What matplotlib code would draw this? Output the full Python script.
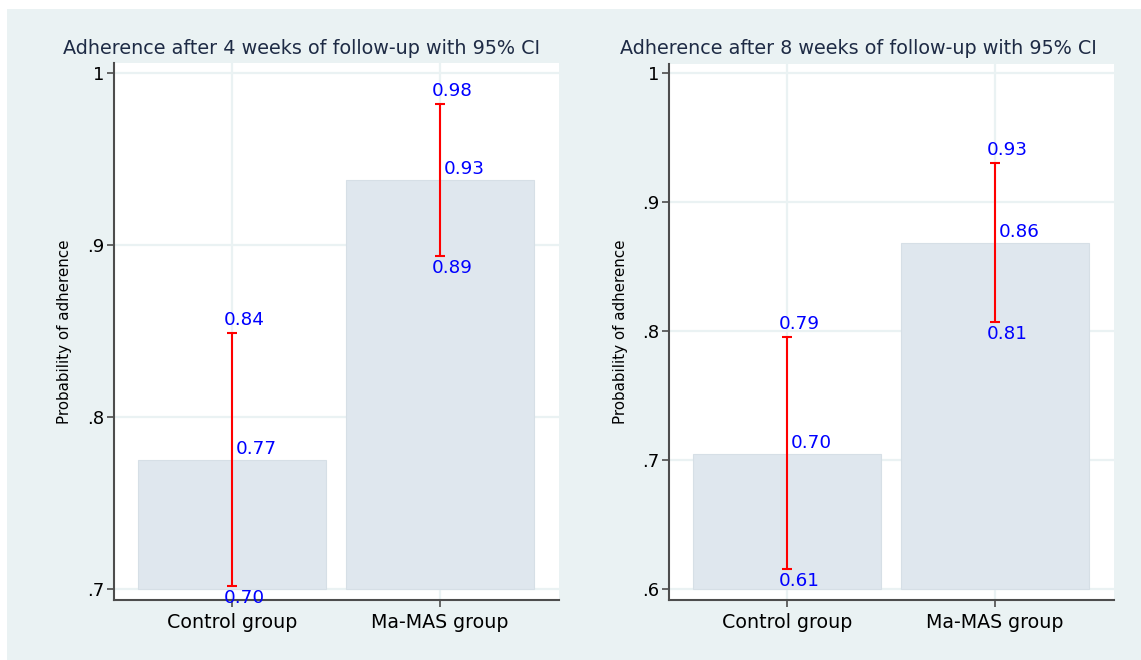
import matplotlib
matplotlib.use("Agg")
import matplotlib.pyplot as plt
from matplotlib.patches import Rectangle
import numpy as np

plt.rcParams['font.family'] = ['DejaVu Sans']

# ---------------- data ----------------
categories = ["Control group", "Ma-MAS group"]

titles = ["Adherence after 4 weeks of follow-up with 95% CI",
          "Adherence after 8 weeks of follow-up with 95% CI"]

# 4 weeks
means_4w = [0.775, 0.938]
lower_4w = [0.7017, 0.8936]
upper_4w = [0.8488, 0.982]
mean_labels_4w = ["0.77", "0.93"]
lower_labels_4w = ["0.70", "0.89"]
upper_labels_4w = ["0.84", "0.98"]
yticks_4w = [0.7, 0.8, 0.9, 1.0]
yticklabels_4w = [".7", ".8", ".9", "1"]
base_4w = 0.7

# 8 weeks
means_8w = [0.7047, 0.868]
lower_8w = [0.6155, 0.807]
upper_8w = [0.7953, 0.930]
mean_labels_8w = ["0.70", "0.86"]
lower_labels_8w = ["0.61", "0.81"]
upper_labels_8w = ["0.79", "0.93"]
yticks_8w = [0.6, 0.7, 0.8, 0.9, 1.0]
yticklabels_8w = [".6", ".7", ".8", ".9", "1"]
base_8w = 0.6

ylabel = "Probability of adherence"

# ---------------- style ----------------
W, H = 1141, 660
BG = "#EAF2F3"
BAR = "#DFE7EE"
BAR_EDGE = "#D6DFE6"
GRID = "#EAF2F3"
AXIS = "#4D4D4D"
TITLE_C = "#1E2B45"

fig = plt.figure(figsize=(W / 100, H / 100), dpi=100)
fig.patch.set_facecolor("white")
fig.patches.append(Rectangle((7 / W, 0), 1 - 7 / W, (H - 9) / H,
                             transform=fig.transFigure, facecolor=BG,
                             edgecolor="none", zorder=-10))


def px_rect(x0, y0, x1, y1):
    return [x0 / W, 1 - y1 / H, (x1 - x0) / W, (y1 - y0) / H]


panels = [
    dict(rect=px_rect(114, 63, 559, 600), ylim=(0.6936, 1.0058),
         means=means_4w, lower=lower_4w, upper=upper_4w,
         ml=mean_labels_4w, ll=lower_labels_4w, ul=upper_labels_4w,
         yt=yticks_4w, ytl=yticklabels_4w, base=base_4w,
         title=titles[0], title_x=302, ylab_x=65),
    dict(rect=px_rect(669, 64, 1114, 600), ylim=(0.5915, 1.0070),
         means=means_8w, lower=lower_8w, upper=upper_8w,
         ml=mean_labels_8w, ll=lower_labels_8w, ul=upper_labels_8w,
         yt=yticks_8w, ytl=yticklabels_8w, base=base_8w,
         title=titles[1], title_x=858, ylab_x=620),
]

x = np.arange(len(categories))
LAB_FS = 13.2

for p in panels:
    ax = fig.add_axes(p["rect"])
    ax.set_zorder(1)
    ax.set_facecolor("white")
    ax.set_xlim(-0.567, 1.572)
    ax.set_ylim(*p["ylim"])

    # grid
    for yt in p["yt"]:
        ax.axhline(yt, color=GRID, lw=1.6, zorder=0.5)
    for xi in x:
        ax.axvline(xi, color=GRID, lw=1.6, zorder=0.5)

    means = np.array(p["means"])
    lo = np.array(p["lower"])
    up = np.array(p["upper"])
    ax.bar(x, means - p["base"], bottom=p["base"], width=0.9,
           color=BAR, edgecolor=BAR_EDGE, linewidth=0.8, zorder=1)
    ax.errorbar(x, means, yerr=[means - lo, up - means], fmt="none",
                ecolor="#FF0000", elinewidth=1.5, capsize=3.7,
                capthick=1.5, zorder=3)

    for xi, m, l, u, mlab, llab, ulab in zip(x, means, lo, up,
                                             p["ml"], p["ll"], p["ul"]):
        ax.annotate(ulab, (xi, u), xytext=(12, 13), textcoords="offset pixels",
                    ha="center", va="center", color="#0000FF", fontsize=LAB_FS,
                    zorder=4, annotation_clip=False)
        ax.annotate(mlab, (xi, m), xytext=(4, 11), textcoords="offset pixels",
                    ha="left", va="center", color="#0000FF", fontsize=LAB_FS,
                    zorder=4, annotation_clip=False)
        ax.annotate(llab, (xi, l), xytext=(12, -12), textcoords="offset pixels",
                    ha="center", va="center", color="#0000FF", fontsize=LAB_FS,
                    zorder=4, annotation_clip=False)

    ax.set_yticks(p["yt"])
    ax.set_yticklabels(p["ytl"], fontsize=13)
    ax.set_xticks(x)
    ax.set_xticklabels(categories, fontsize=13.7)
    ax.tick_params(axis="both", direction="out", length=5, width=1.2,
                   color=AXIS, labelcolor="black")
    ax.tick_params(axis="y", pad=2)
    ax.tick_params(axis="x", pad=4)

    for side in ["top", "right"]:
        ax.spines[side].set_visible(False)
    for side in ["left", "bottom"]:
        ax.spines[side].set_color(AXIS)
        ax.spines[side].set_linewidth(1.5)

    fig.text(p["title_x"] / W, 1 - 49 / H, p["title"], ha="center",
             va="center", fontsize=13.8, color=TITLE_C)
    fig.text(p["ylab_x"] / W, 1 - 332 / H, ylabel, ha="center", va="center",
             rotation=90, fontsize=10.9, color="black")

fig.savefig("out.png", dpi=100, facecolor=fig.get_facecolor())
